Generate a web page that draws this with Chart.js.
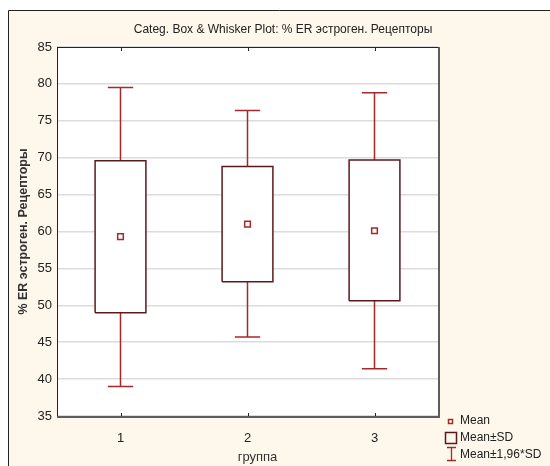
<!DOCTYPE html>
<html>
<head>
<meta charset="utf-8">
<script src="https://cdn.jsdelivr.net/npm/chart.js@4/dist/chart.umd.min.js"></script>
<style>
  html, body { margin: 0; padding: 0; background: #fff; }
  #wrap { width: 550px; height: 466px; }
</style>
</head>
<body>
<div id="wrap"><canvas id="boxChart" width="550" height="466"></canvas></div>
<script>
// groups and their summary statistics (% ER)
var groups = [1, 2, 3];
var groupLabels = ["1", "2", "3"];
var means = [59.3, 61.0, 60.1];
var sdLow = [49.0, 53.2, 50.6];
var sdHigh = [69.6, 68.8, 69.7];
var ciLow = [39.0, 45.7, 41.4];
var ciHigh = [79.5, 76.4, 78.8];

var boxColor = "#5a1a1c";
var whiskColor = "#a3292d";
var FONT = "Arial, 'Liberation Sans', sans-serif";

var BOX_HALF = 0.2;
var CAP_HALF = 0.1;

// whiskers: vertical stems outside the box plus caps
var whiskerPts = [];
groups.forEach(function (g, i) {
  whiskerPts.push({x: g, y: sdHigh[i]}, {x: g, y: ciHigh[i]}, {x: g, y: null});
  whiskerPts.push({x: g - CAP_HALF, y: ciHigh[i]}, {x: g + CAP_HALF, y: ciHigh[i]}, {x: g, y: null});
  whiskerPts.push({x: g, y: sdLow[i]}, {x: g, y: ciLow[i]}, {x: g, y: null});
  whiskerPts.push({x: g - CAP_HALF, y: ciLow[i]}, {x: g + CAP_HALF, y: ciLow[i]}, {x: g, y: null});
});

var datasets = [{
  label: "Mean",
  data: groups.map(function (g, i) { return {x: g, y: means[i]}; }),
  showLine: false,
  pointStyle: "rect",
  pointRadius: 4,
  pointBorderWidth: 1.5,
  pointBorderColor: whiskColor,
  pointBackgroundColor: "#fff",
  order: 0
}];

// one closed rectangle per box so it can be filled white
groups.forEach(function (g, i) {
  datasets.push({
    label: "Mean±SD",
    data: [
      {x: g - BOX_HALF, y: sdLow[i]},
      {x: g + BOX_HALF, y: sdLow[i]},
      {x: g + BOX_HALF, y: sdHigh[i]},
      {x: g - BOX_HALF, y: sdHigh[i]},
      {x: g - BOX_HALF, y: sdLow[i]}
    ],
    borderColor: boxColor,
    borderWidth: 1.5,
    backgroundColor: "#fff",
    fill: "shape",
    pointRadius: 0,
    tension: 0,
    order: 1
  });
});

datasets.push({
  label: "Mean±1,96*SD",
  data: whiskerPts,
  borderColor: whiskColor,
  borderWidth: 1.5,
  pointRadius: 0,
  spanGaps: false,
  tension: 0,
  order: 2
});

var panelBg = {
  id: "panelBg",
  beforeDraw: function (chart) {
    var c = chart.ctx, a = chart.chartArea;
    c.save();
    c.fillStyle = "#fff";
    c.fillRect(0, 0, chart.width, chart.height);
    c.fillStyle = "#fef8ec";
    c.fillRect(8, 10, chart.width - 8, chart.height - 10);
    c.strokeStyle = "#222";
    c.lineWidth = 1;
    c.beginPath();
    c.moveTo(8.5, chart.height);
    c.lineTo(8.5, 10.5);
    c.lineTo(chart.width, 10.5);
    c.stroke();
    c.fillStyle = "#fff";
    c.fillRect(a.left, a.top, a.right - a.left, a.bottom - a.top);
    c.restore();
  }
};

var frame = {
  id: "frame",
  afterDatasetsDraw: function (chart) {
    var c = chart.ctx, a = chart.chartArea, xs = chart.scales.x;
    c.save();
    c.strokeStyle = "#222";
    c.lineWidth = 1;
    c.strokeRect(Math.round(a.left) + 0.5, Math.round(a.top) + 0.5,
      Math.round(a.right - a.left), Math.round(a.bottom - a.top));
    c.strokeStyle = "#5c5c5c";
    c.lineWidth = 2;
    c.beginPath();
    c.moveTo(Math.round(a.left), Math.round(a.bottom) + 1);
    c.lineTo(Math.round(a.right) + 1, Math.round(a.bottom) + 1);
    c.lineTo(Math.round(a.right) + 1, Math.round(a.top));
    c.stroke();
    // small category ticks on the top and bottom edges
    c.strokeStyle = "#222";
    c.lineWidth = 1;
    c.beginPath();
    groups.forEach(function (g) {
      var px = Math.round(xs.getPixelForValue(g)) + 0.5;
      c.moveTo(px, a.top);
      c.lineTo(px, a.top + 4);
      c.moveTo(px, a.bottom);
      c.lineTo(px, a.bottom - 3);
    });
    c.stroke();
    c.restore();
  }
};

// legend and x-axis caption below/right of the plot frame
var sideLegend = {
  id: "sideLegend",
  afterDraw: function (chart) {
    var c = chart.ctx, a = chart.chartArea;
    var x0 = Math.round(a.right), y0 = Math.round(a.bottom);
    c.save();
    c.textBaseline = "middle";

    c.font = "13px " + FONT;
    c.fillStyle = "#333";
    c.textAlign = "center";
    c.fillText("группа", (a.left + a.right) / 2 + 10, y0 + 41);

    c.font = "12px " + FONT;
    c.fillStyle = "#222";
    c.textAlign = "left";

    c.strokeStyle = whiskColor;
    c.lineWidth = 1.5;
    c.strokeRect(x0 + 10.5, y0 + 3.5, 4, 4);
    c.fillText("Mean", x0 + 22, y0 + 5);

    c.strokeStyle = boxColor;
    c.lineWidth = 1.5;
    c.strokeRect(x0 + 7.5, y0 + 16.5, 11, 11);
    c.fillText("Mean±SD", x0 + 22, y0 + 22);

    c.strokeStyle = whiskColor;
    c.lineWidth = 1.3;
    c.beginPath();
    c.moveTo(x0 + 13.5, y0 + 31);
    c.lineTo(x0 + 13.5, y0 + 45);
    c.moveTo(x0 + 9, y0 + 31.5);
    c.lineTo(x0 + 18, y0 + 31.5);
    c.moveTo(x0 + 9, y0 + 44.5);
    c.lineTo(x0 + 18, y0 + 44.5);
    c.stroke();
    c.fillText("Mean±1,96*SD", x0 + 22, y0 + 39);
    c.restore();
  }
};

var ctx = document.getElementById("boxChart").getContext("2d");
var boxChart = new Chart(ctx, {
  type: "line",
  data: { datasets: datasets },
  options: {
    responsive: false,
    animation: false,
    events: [],
    layout: { padding: { left: 16, top: 10, right: 0, bottom: 0 } },
    plugins: {
      legend: { display: false },
      tooltip: { enabled: false },
      title: {
        display: true,
        text: "Categ. Box & Whisker Plot: % ER эстроген. Рецепторы",
        color: "#222",
        font: { family: FONT, size: 12, weight: "normal" },
        padding: { top: 12.8, bottom: 9.8 }
      }
    },
    scales: {
      x: {
        type: "linear",
        min: 0.5,
        max: 3.5,
        afterBuildTicks: function (scale) {
          scale.ticks = groups.map(function (g) { return {value: g}; });
        },
        afterFit: function (scale) { scale.height = 50; },
        ticks: {
          padding: 7,
          color: "#222",
          font: { family: FONT, size: 13 },
          callback: function (v) { return groupLabels[groups.indexOf(v)]; }
        },
        grid: { display: false },
        border: { display: false }
      },
      y: {
        min: 35,
        max: 85,
        afterFit: function (scale) { scale.width = 41; },
        ticks: {
          stepSize: 5,
          padding: 5,
          color: "#222",
          font: { family: FONT, size: 13 }
        },
        grid: { color: "#dcdcdc", lineWidth: 1.5, drawTicks: false },
        border: { display: false },
        title: {
          display: true,
          text: "% ER эстроген. Рецепторы",
          color: "#333",
          font: { family: FONT, size: 12.5, weight: "bold" },
          padding: { top: 0, bottom: 0 }
        }
      },
      side: {
        type: "linear",
        position: "right",
        afterFit: function (scale) { scale.width = 112; },
        ticks: { display: false },
        grid: { display: false },
        border: { display: false }
      }
    }
  },
  plugins: [panelBg, frame, sideLegend]
});
</script>
</body>
</html>
